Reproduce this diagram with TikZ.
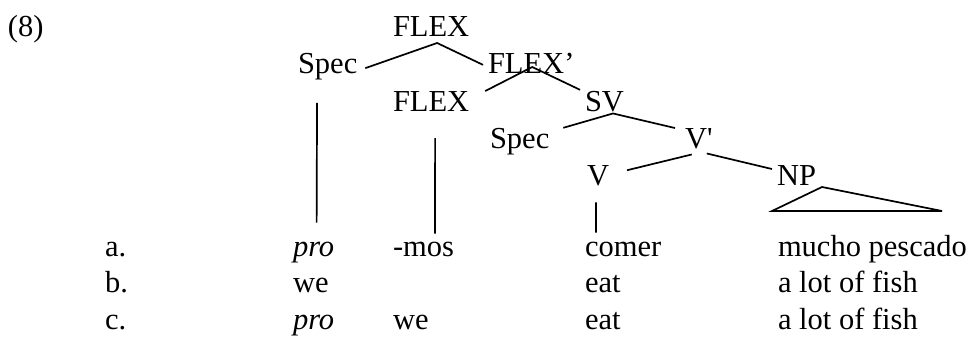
\documentclass[tikz,border=0pt]{standalone}
\usepackage{fontspec}
\setmainfont{Liberation Serif}
\begin{document}
\begin{tikzpicture}[x=1pt,y=-1pt,
  lbl/.style={anchor=base west,inner sep=0pt,outer sep=0pt,font=\fontsize{30.5}{36}\selectfont},
  branch/.style={line width=1.7pt,line cap=butt}]
\useasboundingbox (0,0) rectangle (976,337);
% tree labels
\node[lbl] (ex) at (8,37) {(8)};
\node[lbl] (flex0) at (393,37) {FLEX};
\node[lbl] (spec0) at (298,73) {Spec};
\node[lbl] (flex1) at (488,73) {FLEX'};
\node[lbl] (flex2) at (393,111) {FLEX};
\node[lbl] (sv) at (585,111) {SV};
\node[lbl] (spec1) at (490,148) {Spec};
\node[lbl] (vp) at (685,148) {V\textquotesingle};
\node[lbl] (v) at (587,185) {V};
\node[lbl] (np) at (777,185) {NP};
% rows
\node[lbl] (la) at (105,256) {a.};
\node[lbl] (pa) at (293,256) {\itshape pro};
\node[lbl] (ma) at (393,256) {-mos};
\node[lbl] (ca) at (585,256) {comer};
\node[lbl] (oa) at (778,256) {mucho pescado};
\node[lbl] (lb) at (105,292.5) {b.};
\node[lbl] (pb) at (293,292.5) {we};
\node[lbl] (cb) at (585,292.5) {eat};
\node[lbl] (ob) at (778,292.5) {a lot of fish};
\node[lbl] (lc) at (105,329) {c.};
\node[lbl] (pc) at (293,329) {\itshape pro};
\node[lbl] (mc) at (393,329) {we};
\node[lbl] (cc) at (585,329) {eat};
\node[lbl] (oc) at (778,329) {a lot of fish};
% branches
\draw[branch] ([xshift=8pt,yshift=-2pt]spec0.east) -- ([xshift=6pt,yshift=-6pt]flex0.south) -- ([xshift=-5pt,yshift=-2pt]flex1.west);
\draw[branch] ([xshift=16pt]flex2.north east) -- ([xshift=1pt,yshift=6pt]flex1.south) -- ([xshift=-5pt,yshift=1pt]sv.north west);
\draw[branch] ([xshift=14pt]spec1.north east) -- ([xshift=8.5pt,yshift=-2pt]sv.south) -- ([xshift=-10pt]vp.north west);
\draw[branch] ([xshift=18pt,yshift=5pt]v.east) -- ([xshift=-7pt,yshift=-6pt]vp.south);
\draw[branch] ([xshift=8pt,yshift=-5pt]vp.south) -- ([xshift=-5pt,yshift=-4pt]np.north west);
\draw[branch,line join=miter] ([xshift=25.5pt,yshift=-2pt]np.south) -- ([xshift=-24.5pt,yshift=-26pt]np.south) -- ([xshift=145.5pt,yshift=-26pt]np.south) -- cycle;
% vertical lines
\draw[branch] ([xshift=-10.6pt,yshift=-23.4pt]spec0.south) -- ([xshift=3pt,yshift=19pt]pa.north);
\draw[branch] ([xshift=4pt,yshift=-27pt]flex2.south) -- ([xshift=11.5pt,yshift=8pt]ma.north);
\draw[branch] ([xshift=-2pt,yshift=-17pt]v.south) -- ([xshift=11pt,yshift=9pt]ca.north west);
\end{tikzpicture}
\end{document}
